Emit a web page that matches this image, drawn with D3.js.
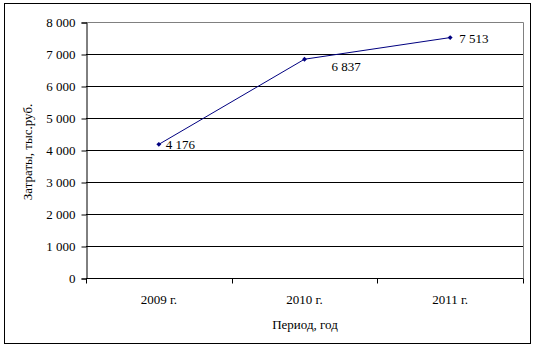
<!DOCTYPE html>
<html>
<head>
<meta charset="utf-8">
<script src="https://cdn.jsdelivr.net/npm/d3@7"></script>
<style>
  body { margin: 0; background: #fff; }
  svg text { font-family: "Liberation Serif", "Times New Roman", serif; font-size: 13px; fill: #000; }
</style>
</head>
<body>
<svg id="chart" width="536" height="348"></svg>
<script>
const years = ["2009 г.", "2010 г.", "2011 г."];
const costs = [4176, 6837, 7513];
const yTicks = [0, 1000, 2000, 3000, 4000, 5000, 6000, 7000, 8000];

const svg = d3.select("#chart");
const plotLeft = 86, plotRight = 523, plotTop = 22, plotBottom = 278;

// outer frame
svg.append("rect")
  .attr("x", 4.5).attr("y", 3.5).attr("width", 526).attr("height", 340)
  .attr("fill", "none").attr("stroke", "#000").attr("stroke-width", 1);

const x = d3.scaleBand().domain(years).range([plotLeft, plotRight]);
const y = d3.scaleLinear().domain([0, 8000]).range([plotBottom, plotTop]);

const fmt = v => d3.format(",")(v).replace(/,/g, " ");

// grid lines
svg.append("g")
  .selectAll("line")
  .data(yTicks.filter(t => t > 0 && t < 8000))
  .enter()
  .append("line")
  .attr("x1", plotLeft).attr("x2", plotRight)
  .attr("y1", d => Math.round(y(d)) + 0.5).attr("y2", d => Math.round(y(d)) + 0.5)
  .attr("stroke", "#000");

// plot area border (top and right in gray)
svg.append("path")
  .attr("d", `M${plotLeft},${y(8000) + 0.5}H${plotRight + 0.5}V${plotBottom}`)
  .attr("fill", "none").attr("stroke", "#808080");

// y axis
const yAxis = svg.append("g")
  .attr("transform", `translate(${plotLeft + 0.5},0.5)`)
  .call(d3.axisLeft(y).tickValues(yTicks).tickSize(5).tickPadding(6).tickFormat(fmt));
yAxis.select(".domain").attr("stroke", "#000");
yAxis.selectAll("line").attr("stroke", "#000");
yAxis.selectAll("text").attr("font-size", null);

// x axis
const xAxis = svg.append("g")
  .attr("transform", `translate(0,${plotBottom + 0.5})`)
  .call(d3.axisBottom(x).tickSize(0).tickPadding(16));
xAxis.select(".domain").attr("d", `M${plotLeft},0H${plotRight + 0.5}`).attr("stroke", "#000");
xAxis.selectAll("text").attr("font-size", null);
// category separators
xAxis.append("g").selectAll("line")
  .data(years.map(d => x(d)).concat([plotRight]))
  .enter()
  .append("line")
  .attr("x1", d => Math.round(d) + 0.5).attr("x2", d => Math.round(d) + 0.5)
  .attr("y1", 0).attr("y2", 5)
  .attr("stroke", "#000");

// axis titles
svg.append("text")
  .attr("x", 305).attr("y", 329)
  .attr("text-anchor", "middle")
  .text("Период, год");
svg.append("text")
  .attr("transform", "translate(32,152) rotate(-90)")
  .attr("text-anchor", "middle")
  .text("Затраты, тыс.руб.");

// line
const cx = d => x(d) + x.bandwidth() / 2;
const pts = years.map((d, i) => [cx(d), y(costs[i])]);
svg.append("path")
  .attr("d", d3.line()(pts))
  .attr("fill", "none").attr("stroke", "#000080").attr("stroke-width", 1);

// small diamond markers
svg.append("g").selectAll("path")
  .data(pts)
  .enter()
  .append("path")
  .attr("transform", d => `translate(${d[0]},${d[1]}) rotate(45)`)
  .attr("d", d3.symbol(d3.symbolSquare, 12))
  .attr("fill", "#000080");

// data labels
const labelOffsets = [[7, 5], [27, 12], [9, 5]];
svg.append("g").selectAll("text")
  .data(costs)
  .enter()
  .append("text")
  .attr("x", (d, i) => pts[i][0] + labelOffsets[i][0])
  .attr("y", (d, i) => pts[i][1] + labelOffsets[i][1])
  .text(fmt);
</script>
</body>
</html>
